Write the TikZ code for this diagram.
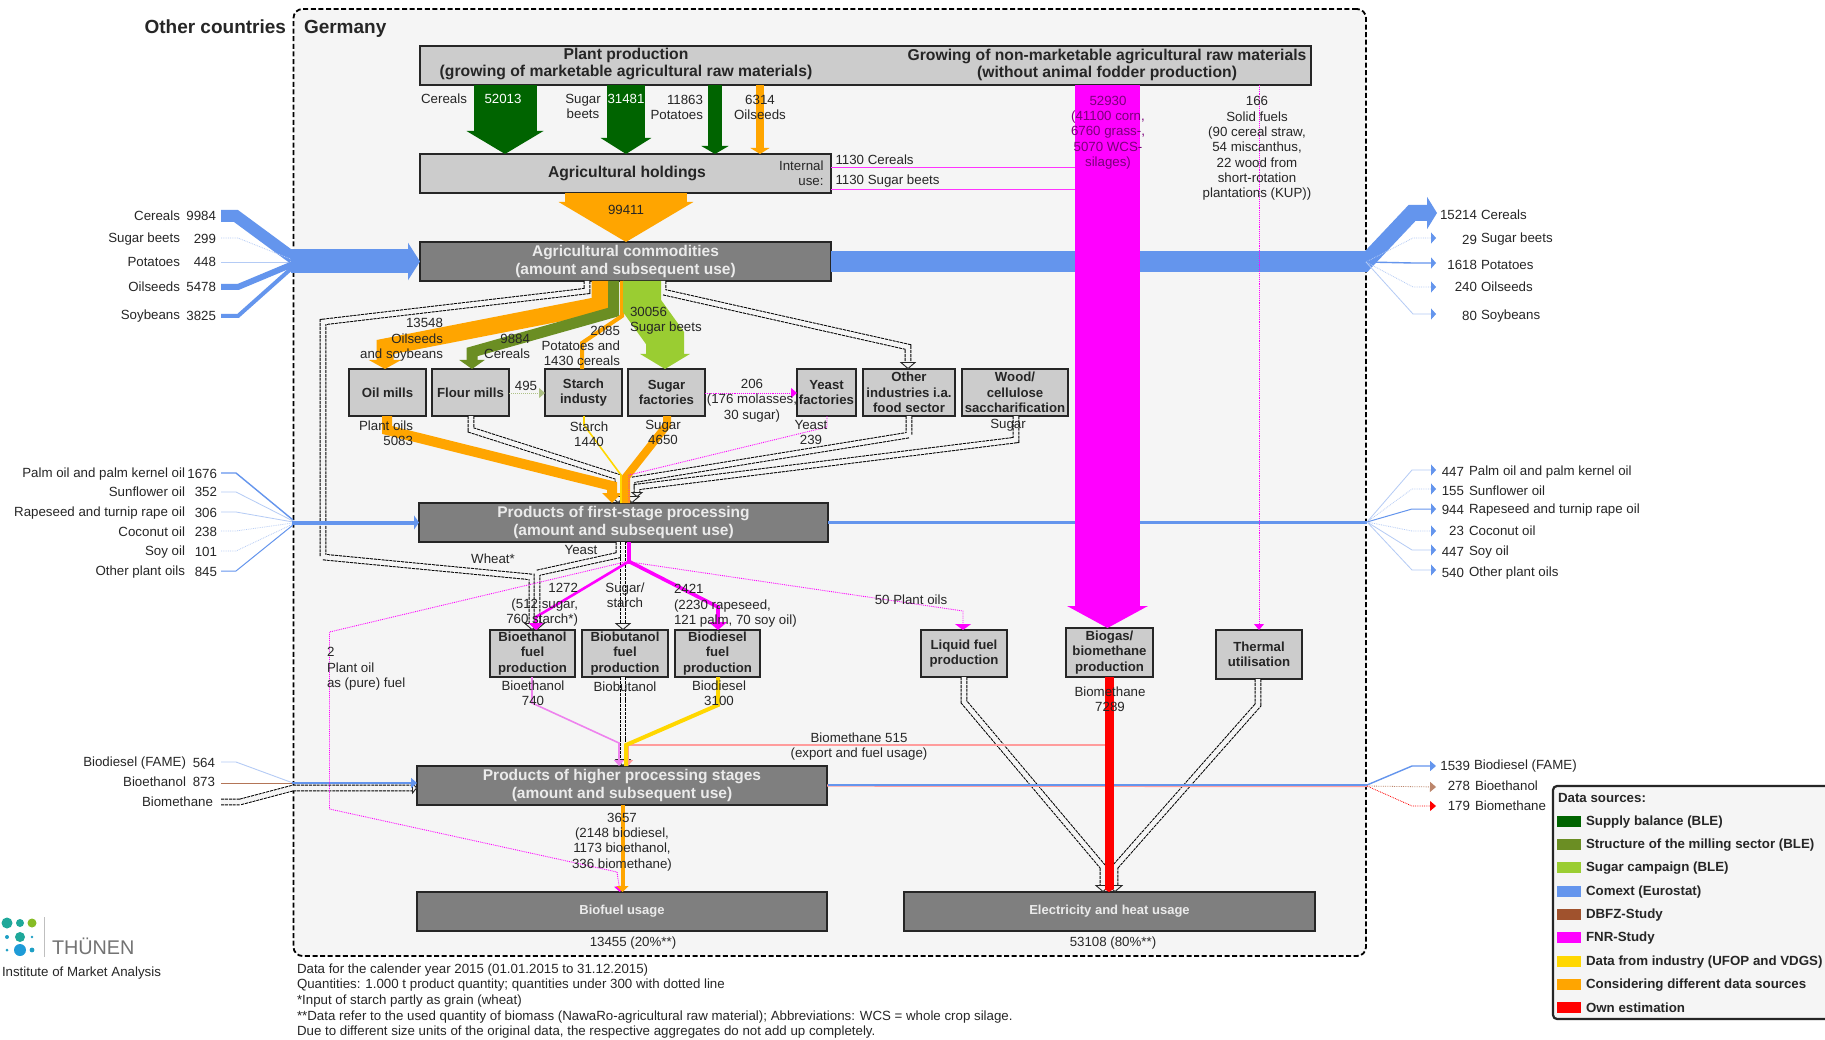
\documentclass[tikz,border=0pt]{standalone}
\usepackage{fontspec}
\setmainfont{Liberation Sans}
\usetikzlibrary{arrows.meta}
\definecolor{bggrey}{HTML}{F5F5F5}
\definecolor{boxlight}{HTML}{CCCCCC}
\definecolor{boxdark}{HTML}{7F7F7F}
\definecolor{supply}{HTML}{006400}
\definecolor{milling}{HTML}{6B8E23}
\definecolor{sugarcamp}{HTML}{9ACD32}
\definecolor{comext}{HTML}{6495ED}
\definecolor{comextlight}{HTML}{B4CBF5}
\definecolor{dbfz}{HTML}{A0522D}
\definecolor{fnr}{HTML}{FF00FF}
\definecolor{fnrlight}{HTML}{EE82EE}
\definecolor{industry}{HTML}{FFD700}
\definecolor{mixed}{HTML}{FFA500}
\definecolor{own}{HTML}{FF0000}
\definecolor{ownlight}{HTML}{FF9C9C}
\definecolor{inktext}{HTML}{262626}
\definecolor{onfnr}{HTML}{7A007A}
\definecolor{logoteal}{HTML}{1FA89A}
\definecolor{logogreen}{HTML}{86BC25}
\definecolor{logoblue}{HTML}{1E9BD7}
\newcommand{\txtsize}[1]{\fontsize{#1}{15.3}\selectfont}

\begin{document}
\begin{tikzpicture}[x=1pt, y=-1pt,
		lbl/.style={inner sep=0pt, outer sep=0pt, align=center, text=inktext, font=\txtsize{13.3}},
		lblr/.style={lbl, anchor=east, align=right},
		lbll/.style={lbl, anchor=west, align=left},
		procbox/.style={draw=black!85, line width=2.2pt, fill=boxlight, inner sep=0pt, outer sep=0pt,
			align=center, text=black!85, font=\bfseries\txtsize{13.2}},
		sumbox/.style={procbox, fill=boxdark, text=white!92!black, font=\bfseries\fontsize{15.5}{18}\selectfont},
		swatch/.style={inner sep=0pt, outer sep=0pt, minimum width=24pt, minimum height=11pt},
		legtext/.style={lbll, font=\bfseries\txtsize{13.3}},
		flow/.style={line join=miter, line cap=butt},
		tinytip/.style={-{Triangle[length=6pt, width=10pt]}},
		bluetip/.style={-{Triangle[length=5pt, width=11pt, color=comext]}},
		hollow/.style={draw=black, line width=6.6pt, dash pattern=on 3pt off .9pt,
			-{Triangle[open, length=7pt, width=16pt, fill=bggrey, color=black!85, line width=.8pt]},
			postaction={draw=bggrey, line width=4.6pt, solid}},
		hollowsmall/.style={hollow, -{Triangle[open, length=5pt, width=12pt, fill=bggrey, color=black!85, line width=.8pt]}}]
	\useasboundingbox (0,0) rectangle (1825,1040);
	\clip (0,0) rectangle (1825,1040);
	\fill[white] (0,0) rectangle (1825,1040);

	\node[draw=black, fill=bggrey, line width=1.8pt, dash pattern=on 5pt off 2.6pt, rounded corners=9pt,
		minimum width=1072.5pt, minimum height=947pt, inner sep=0pt, outer sep=0pt] (germany) at (829.75,482.5) {};
	\node[lblr, font=\bfseries\fontsize{19}{22}\selectfont] (othertitle) at (286,27) {Other countries};
	\node[lbll, font=\bfseries\fontsize{19}{22}\selectfont] (germanytitle) at (304,29) {Germany};

	\node[procbox, minimum width=891pt, minimum height=39pt] (plant) at (865.5,65.5) {};
	\node[procbox, minimum width=411pt, minimum height=39pt] (holdings) at (625.5,173.5) {};
	\node[sumbox, minimum width=411pt, minimum height=39pt] (commodities) at (625.5,261.5) {Agricultural commodities\\(amount and subsequent use)};
	\node[procbox, minimum width=77pt, minimum height=47pt] (oilmills) at (387.5,392.5) {Oil mills};
	\node[procbox, minimum width=77pt, minimum height=47pt] (flourmills) at (470.5,392.5) {Flour mills};
	\node[procbox, minimum width=77pt, minimum height=47pt] (starchind) at (583.5,392.5) {Starch\\industy};
	\node[procbox, minimum width=77pt, minimum height=47pt] (sugarfac) at (666.5,392.5) {Sugar\\factories};
	\node[procbox, minimum width=59pt, minimum height=47pt] (yeastfac) at (826.5,392.5) {Yeast\\factories};
	\node[procbox, minimum width=92pt, minimum height=47pt] (otherind) at (909,392.5) {Other\\industries i.a.\\food sector};
	\node[procbox, minimum width=106pt, minimum height=47pt] (woodsacch) at (1015,392.5) {Wood/\\cellulose\\saccharification};
	\node[sumbox, minimum width=409pt, minimum height=39pt] (firststage) at (623.5,522.5) {Products of first-stage processing\\(amount and subsequent use)};
	\node[procbox, minimum width=85pt, minimum height=47pt] (bioethanol) at (532.5,653.5) {Bioethanol\\fuel\\production};
	\node[procbox, minimum width=86pt, minimum height=47pt] (biobutanol) at (625,653.5) {Biobutanol\\fuel\\production};
	\node[procbox, minimum width=85pt, minimum height=47pt] (biodiesel) at (717.5,653.5) {Biodiesel\\fuel\\production};
	\node[procbox, minimum width=86pt, minimum height=47pt] (liquidfuel) at (964,653.5) {Liquid fuel\\production};
	\node[procbox, minimum width=87pt, minimum height=49pt] (biogas) at (1109.5,652.5) {Biogas/\\biomethane\\production};
	\node[procbox, minimum width=86pt, minimum height=49pt] (thermal) at (1259,654.5) {Thermal\\utilisation};
	\node[sumbox, minimum width=410pt, minimum height=39pt] (higher) at (622,785.5) {Products of higher processing stages\\(amount and subsequent use)};
	\node[sumbox, minimum width=410pt, minimum height=39pt, font=\bfseries\txtsize{13}] (biofuel) at (622,911.5) {Biofuel usage};
	\node[sumbox, minimum width=411pt, minimum height=39pt, font=\bfseries\txtsize{13}] (electricity) at (1109.5,911.5) {Electricity and heat usage};

	\draw[hollow] (587,0 |- commodities.south) -- (587,291) -- (323,322) -- (323,557) -- (532,577) -- (532,0 |- bioethanol.north);
	\draw[hollow] (619,0 |- firststage.south) -- (619,555) -- (537,573) -- (537,0 |- bioethanol.north);
	\draw[hollow] (663,0 |- commodities.south) -- (663,292) -- (908,347) -- (908,0 |- otherind.north);
	\draw[hollow] (471,0 |- flourmills.south) -- (471,430) -- (618,477) -- (618,0 |- firststage.north);
	\draw[hollow] (909,0 |- otherind.south) -- (909,435) -- (632,480) -- (632,0 |- firststage.north);
	\draw[hollowsmall] (1016,0 |- woodsacch.south) -- (1016,440) -- (637,487) -- (637,497);
	\draw[hollow] (623,0 |- firststage.south) -- (623,0 |- biobutanol.north);
	\draw[hollow] (623,0 |- biobutanol.south) -- (623,0 |- higher.north);
	\draw[hollow] (964,0 |- liquidfuel.south) -- (964,702) -- (1103,867) -- (1103,0 |- electricity.north);
	\draw[hollow] (1258,0 |- thermal.south) -- (1258,705) -- (1115,867) -- (1115,0 |- electricity.north);
	\draw[hollowsmall] (221,802) -- (240,802) -- (293,788) -- (417,788);

	\draw[flow, supply, line width=63pt, -{Triangle[length=23pt, width=76pt]}] (505,0 |- plant.south) -- (505,0 |- holdings.north);
	\draw[flow, supply, line width=38pt, -{Triangle[length=16pt, width=50pt]}] (626,0 |- plant.south) -- (626,0 |- holdings.north);
	\draw[flow, supply, line width=14pt, -{Triangle[length=8pt, width=27pt]}] (715,0 |- plant.south) -- (715,0 |- holdings.north);
	\draw[flow, mixed, line width=7.5pt, -{Triangle[length=6pt, width=19pt]}] (760,0 |- plant.south) -- (760,0 |- holdings.north);
	\draw[flow, mixed, line width=122pt, -{Triangle[length=40pt, width=133pt]}] (626,0 |- holdings.south) -- (626,0 |- commodities.north);

	\draw[flow, comext, line width=12pt] (221,216) -- (236,216) -- (293,258);
	\draw[flow, comextlight, line width=.8pt, densely dotted] (221,238) -- (238,238) -- (293,260);
	\draw[flow, comextlight, line width=.8pt] (221,262) -- (293,262);
	\draw[flow, comext, line width=6pt] (221,287) -- (238,287) -- (293,264);
	\draw[flow, comext, line width=4pt] (221,316) -- (238,316) -- (293,267);
	\draw[flow, comext, line width=24pt, -{Triangle[length=12pt, width=37pt]}] (291,261.5) -- (commodities.west);
	\draw[flow, comext, line width=21pt] (commodities.east) -- (1368,261.5);
	\draw[flow, comext, line width=16pt, -{Triangle[length=10pt, width=32pt]}] (1362,266) -- (1412,213) -- (1437,213);
	\draw[flow, comextlight, line width=.8pt, densely dotted, bluetip] (1366,262) -- (1413,238) -- (1436,238);
	\draw[flow, comext, line width=1.4pt, bluetip] (1366,262) -- (1413,263) -- (1436,263);
	\draw[flow, comextlight, line width=.8pt, densely dotted, bluetip] (1366,262) -- (1413,287) -- (1436,287);
	\draw[flow, comextlight, line width=.8pt, bluetip] (1366,262) -- (1413,314) -- (1436,314);

	\draw[flow, comext, line width=1.4pt] (221,473) -- (236,473) -- (293,520);
	\draw[flow, comextlight, line width=.8pt] (221,492) -- (236,492) -- (293,521);
	\draw[flow, comextlight, line width=.8pt] (221,512) -- (236,512) -- (293,522);
	\draw[flow, comextlight, line width=.8pt, densely dotted] (221,531) -- (236,531) -- (293,523);
	\draw[flow, comextlight, line width=.8pt, densely dotted] (221,551) -- (236,551) -- (293,524);
	\draw[flow, comext, line width=1pt] (221,571) -- (236,571) -- (293,525);
	\draw[flow, comext, line width=4pt, -{Triangle[length=5pt, width=14pt]}] (292,522.5) -- (firststage.west);
	\draw[flow, comext, line width=3pt] (firststage.east) -- (1367,522.5);
	\draw[flow, comextlight, line width=.8pt, bluetip] (1367,522) -- (1412,470) -- (1436,470);
	\draw[flow, comextlight, line width=.8pt, densely dotted, bluetip] (1367,522) -- (1412,489) -- (1436,489);
	\draw[flow, comext, line width=1pt, bluetip] (1367,522) -- (1412,509) -- (1436,509);
	\draw[flow, comextlight, line width=.8pt, densely dotted, bluetip] (1367,522) -- (1412,531) -- (1436,531);
	\draw[flow, comextlight, line width=.8pt, bluetip] (1367,522) -- (1412,550) -- (1436,550);
	\draw[flow, comextlight, line width=.8pt, bluetip] (1367,522) -- (1412,570) -- (1436,570);

	\draw[flow, comextlight, line width=.9pt] (221,762) -- (236,762) -- (293,783);
	\draw[flow, dbfz!80, line width=.8pt] (221,783) -- (293,783);
	\draw[flow, comext, line width=1.6pt, tinytip] (292,783) -- (417,783);
	\draw[flow, ownlight, line width=2.4pt] (higher.east) -- (1367,786);
	\draw[flow, comext, line width=1.1pt] (828,785) -- (1367,785);
	\draw[flow, comext, line width=1.4pt, tinytip] (1367,785) -- (1412,766) -- (1436,766);
	\draw[flow, dbfz!70, line width=.8pt, densely dotted, tinytip] (1367,786) -- (1436,787);
	\draw[flow, own, line width=.8pt, densely dotted, tinytip] (1367,786) -- (1412,806) -- (1436,806);

	\draw[flow, mixed, line width=17pt, -{Triangle[length=9pt, width=32pt]}] (600,0 |- commodities.south) -- (600,305) -- (385,347) -- (385,0 |- oilmills.north);
	\draw[flow, milling, line width=11pt, -{Triangle[length=9pt, width=25pt]}] (613.5,0 |- commodities.south) -- (613.5,312) -- (472,352) -- (472,0 |- flourmills.north);
	\draw[flow, mixed, line width=4pt] (622,0 |- commodities.south) -- (622,316) -- (582,343) -- (582,0 |- starchind.north);
	\draw[flow, sugarcamp, line width=38pt, -{Triangle[length=15pt, width=49pt]}] (642,0 |- commodities.south) -- (642,306) -- (665,338) -- (665,0 |- sugarfac.north);
	\draw[flow, milling!55, line width=1pt, densely dotted, tinytip] (flourmills.east |- 0,393) -- (starchind.west |- 0,393);
	\draw[flow, fnr, line width=.9pt, densely dotted, tinytip] (sugarfac.east |- 0,393) -- (yeastfac.west |- 0,393);

	\draw[flow, mixed, line width=10pt, -{Triangle[length=10pt, width=19pt]}] (387,0 |- oilmills.south) -- (387,430) -- (612,486) -- (612,0 |- firststage.north);
	\draw[flow, industry, line width=1.6pt] (584,0 |- starchind.south) -- (584,425) -- (621,475) -- (621,0 |- firststage.north);
	\draw[flow, mixed, line width=8pt] (667,0 |- sugarfac.south) -- (667,425) -- (626,477) -- (626,0 |- firststage.north);
	\draw[flow, fnr, line width=.9pt, densely dotted] (827,0 |- yeastfac.south) -- (827,427) -- (629,475) -- (629,0 |- firststage.north);

	\draw[flow, fnr, line width=3.5pt] (629,0 |- firststage.south) -- (629,564);
	\draw[flow, fnr, line width=2.6pt, -{Triangle[length=7pt, width=14pt]}] (628,562) -- (536,617) -- (536,0 |- bioethanol.north);
	\draw[flow, fnr, line width=3.6pt, -{Triangle[length=8pt, width=18pt]}] (630,562) -- (718,607) -- (718,0 |- biodiesel.north);
	\draw[flow, fnr, line width=.9pt, densely dotted, -{Triangle[length=6pt, width=16pt]}] (630,562) -- (963,611) -- (963,0 |- liquidfuel.north);
	\draw[flow, fnr, line width=.9pt, densely dotted, tinytip] (625,562) -- (329.5,632) -- (329.5,809) -- (617,872) -- (620,0 |- biofuel.north);
	\draw[flow, fnrlight, line width=1.6pt, tinytip] (532,0 |- bioethanol.south) -- (532,703) -- (619,743) -- (619,0 |- higher.north);
	\draw[flow, ownlight, line width=1.4pt, tinytip] (biogas.south |- 0,745) -- (628,745) -- (628,0 |- higher.north);
	\draw[flow, industry, line width=4pt] (718,0 |- biodiesel.south) -- (718,705) -- (626,745) -- (626,0 |- higher.north);
	\draw[flow, mixed, line width=4pt, -{Triangle[length=6pt, width=12pt]}] (622.5,0 |- higher.south) -- (622.5,0 |- biofuel.north);

	\draw[flow, fnr!80, line width=1pt] (holdings.east |- 0,168) -- (1076,168);
	\draw[flow, fnr!80, line width=1pt] (holdings.east |- 0,190) -- (1076,190);
	\draw[flow, fnr, line width=65pt, -{Triangle[length=22pt, width=80pt]}] (1107.5,0 |- plant.south) -- (1107.5,0 |- biogas.north);
	\draw[flow, fnr, line width=.9pt, densely dotted, tinytip] (1259,0 |- plant.south) -- (1259,0 |- thermal.north);
	\draw[flow, own, line width=9pt, -{Triangle[length=3pt, width=9pt]}] (1109,0 |- biogas.south) -- (1109,0 |- electricity.north);

	\node[lbl, font=\bfseries\fontsize{15.7}{17.6}\selectfont, text=black!85] (planttext) at (626,64) {Plant production\\(growing of marketable agricultural raw materials)};
	\node[lbl, font=\bfseries\fontsize{15.7}{17.6}\selectfont, text=black!85] (growtext) at (1107,65) {Growing of non-marketable agricultural raw materials\\(without animal fodder production)};
	\node[lbl, font=\bfseries\fontsize{15.7}{18}\selectfont, text=black!85] (holdtext) at (627,173) {Agricultural holdings};
	\node[lblr] (internal) at (823.5,173.5) {Internal\\use:};
	\node[lbll] (intcereals) at (835.5,160) {1130 Cereals};
	\node[lbll] (intbeets) at (835.5,181) {1130 Sugar beets};

	\node[lbl] (lcereals) at (444,99) {Cereals};
	\node[lbl, text=white] (nplantcer) at (503,99) {52013};
	\node[lbl] (lbeets) at (583,106.5) {Sugar\\beets};
	\node[lbl, text=white] (nplantbeet) at (626,99) {31481};
	\node[lblr] (lpotato) at (703,107.5) {11863\\Potatoes};
	\node[lbl] (loilseed) at (760,107.5) {6314\\Oilseeds};
	\node[lbl] (l99411) at (626,210) {99411};
	\node[lbl, text=onfnr] (lsilage) at (1108,132.5) {52930\\(41100 corn,\\6760 grass-,\\5070 WCS-\\silages)};
	\node[lbl] (lsolid) at (1257,148.5) {166\\Solid fuels\\(90 cereal straw,\\54 miscanthus,\\22 wood from\\short-rotation\\plantations (KUP))};

	\node[lblr] (loil) at (443,340) {13548\\Oilseeds\\and soybeans};
	\node[lblr] (lflour) at (530,346.5) {9884\\Cereals};
	\node[lblr] (lstarchin) at (620,346) {2085\\Potatoes and\\1430 cereals};
	\node[lbll] (lbeetin) at (630,321) {30056\\Sugar beets};
	\node[lbl] (l495) at (526,386) {495};
	\node[lbl] (l206) at (752,400.5) {206\\(176 molasses,\\30 sugar)};
	\node[lblr] (lplantoils) at (413,433.5) {Plant oils\\5083};
	\node[lbl] (lstarchout) at (589,434.5) {Starch\\1440};
	\node[lbl] (lsugarout) at (663,432.5) {Sugar\\4650};
	\node[lbl] (lyeastout) at (811,432.5) {Yeast\\239};
	\node[lbl] (lsugarwood) at (1008,425) {Sugar};

	\node[lbl] (lyeast) at (581,550) {Yeast};
	\node[lbl] (lwheat) at (493,559) {Wheat*};
	\node[lblr] (l1272) at (578,605) {1272\\(512 sugar,\\760 starch*)};
	\node[lbl] (lsugstarch) at (625,595.5) {Sugar/\\starch};
	\node[lbll] (l2421) at (674,606) {2421\\(2230 rapeseed,\\121 palm, 70 soy oil)};
	\node[lbl] (l50) at (911,600) {50 Plant oils};
	\node[lbll] (lpure) at (327,669) {2\\Plant oil\\as (pure) fuel};
	\node[lbl] (lbioeth) at (533,693.5) {Bioethanol\\740};
	\node[lbl] (lbiobut) at (625,687) {Biobutanol};
	\node[lbl] (lbiodies) at (719,693.5) {Biodiesel\\3100};
	\node[lbl] (lbiometh) at (1110,699.5) {Biomethane\\7289};
	\node[lbl] (lb515) at (859,746.5) {Biomethane 515\\(export and fuel usage)};
	\node[lbl] (l3657) at (622,842) {3657\\(2148 biodiesel,\\1173 bioethanol,\\336 biomethane)};
	\node[lbl] (l13455) at (633,943) {13455 (20\%**)};
	\node[lbl] (l53108) at (1113,943) {53108 (80\%**)};

	\node[lblr] (incer) at (180,216) {Cereals};
	\node[lblr] (incern) at (216,216) {9984};
	\node[lblr] (inbeet) at (180,239) {Sugar beets};
	\node[lblr] (inbeetn) at (216,239) {299};
	\node[lblr] (inpot) at (180,262) {Potatoes};
	\node[lblr] (inpotn) at (216,262) {448};
	\node[lblr] (inseed) at (180,287) {Oilseeds};
	\node[lblr] (inseedn) at (216,287) {5478};
	\node[lblr] (insoy) at (180,316) {Soybeans};
	\node[lblr] (insoyn) at (216,316) {3825};

	\node[lblr] (inpalm) at (185,474) {Palm oil and palm kernel oil};
	\node[lblr] (inpalmn) at (217,474) {1676};
	\node[lblr] (insun) at (185,492) {Sunflower oil};
	\node[lblr] (insunn) at (217,492) {352};
	\node[lblr] (inrape) at (185,513) {Rapeseed and turnip rape oil};
	\node[lblr] (inrapen) at (217,513) {306};
	\node[lblr] (incoco) at (185,532) {Coconut oil};
	\node[lblr] (incocon) at (217,532) {238};
	\node[lblr] (insoyoil) at (185,552) {Soy oil};
	\node[lblr] (insoyoiln) at (217,552) {101};
	\node[lblr] (inother) at (185,572) {Other plant oils};
	\node[lblr] (inothern) at (217,572) {845};

	\node[lblr] (infame) at (186,763) {Biodiesel (FAME)};
	\node[lblr] (infamen) at (215,763) {564};
	\node[lblr] (inethanol) at (186,782) {Bioethanol};
	\node[lblr] (inethanoln) at (215,782) {873};
	\node[lblr] (inmethane) at (213,802) {Biomethane};

	\node[lblr] (outcern) at (1477,215) {15214};
	\node[lbll] (outcer) at (1481,215) {Cereals};
	\node[lblr] (outbeetn) at (1477,239.5) {29};
	\node[lbll] (outbeet) at (1481,239.5) {Sugar beets};
	\node[lblr] (outpotn) at (1477,265) {1618};
	\node[lbll] (outpot) at (1481,265) {Potatoes};
	\node[lblr] (outseedn) at (1477,287) {240};
	\node[lbll] (outseed) at (1481,287) {Oilseeds};
	\node[lblr] (outsoyn) at (1477,316) {80};
	\node[lbll] (outsoy) at (1481,316) {Soybeans};

	\node[lblr] (outpalmn) at (1464,472) {447};
	\node[lbll] (outpalm) at (1469,472) {Palm oil and palm kernel oil};
	\node[lblr] (outsunn) at (1464,491) {155};
	\node[lbll] (outsun) at (1469,491) {Sunflower oil};
	\node[lblr] (outrapen) at (1464,510) {944};
	\node[lbll] (outrape) at (1469,510) {Rapeseed and turnip rape oil};
	\node[lblr] (outcocon) at (1464,531) {23};
	\node[lbll] (outcoco) at (1469,531) {Coconut oil};
	\node[lblr] (outsoyoiln) at (1464,552) {447};
	\node[lbll] (outsoyoil) at (1469,552) {Soy oil};
	\node[lblr] (outothern) at (1464,573) {540};
	\node[lbll] (outother) at (1469,573) {Other plant oils};

	\node[lblr] (outfamen) at (1470,766) {1539};
	\node[lbll] (outfame) at (1474,766) {Biodiesel (FAME)};
	\node[lblr] (outethanoln) at (1470,786) {278};
	\node[lbll] (outethanol) at (1475,786) {Bioethanol};
	\node[lblr] (outmethanen) at (1470,806) {179};
	\node[lbll] (outmethane) at (1475,806) {Biomethane};

	\node[lbll, anchor=north west, font=\fontsize{13.3}{15.7}\selectfont] (notes) at (297,963.5) {Data for the calender year 2015 (01.01.2015 to 31.12.2015)\\Quantities: 1.000 t product quantity; quantities under 300 with dotted line\\*Input of starch partly as grain (wheat)\\**Data refer to the used quantity of biomass (NawaRo-agricultural raw material); Abbreviations: WCS = whole crop silage.\\Due to different size units of the original data, the respective aggregates do not add up completely.};

	\node[draw=black!85, fill=bggrey, line width=2.2pt, rounded corners=4pt, minimum width=290pt, minimum height=233pt,
		inner sep=0pt, outer sep=0pt, anchor=north west] (legend) at (1553,786) {};
	\node[legtext] (legtitle) at (1558,798) {Data sources:};
	\node[swatch, fill=supply, anchor=west] (swsupply) at (1557,821) {};
	\node[legtext, right=5pt] (txsupply) at ([yshift=-1pt]swsupply.east) {Supply balance (BLE)};
	\node[swatch, fill=milling, anchor=west] (swmilling) at (1557,844) {};
	\node[legtext, right=5pt] (txmilling) at ([yshift=-1pt]swmilling.east) {Structure of the milling sector (BLE)};
	\node[swatch, fill=sugarcamp, anchor=west] (swsugar) at (1557,867) {};
	\node[legtext, right=5pt] (txsugar) at ([yshift=-1pt]swsugar.east) {Sugar campaign (BLE)};
	\node[swatch, fill=comext, anchor=west] (swcomext) at (1557,891) {};
	\node[legtext, right=5pt] (txcomext) at ([yshift=-1pt]swcomext.east) {Comext (Eurostat)};
	\node[swatch, fill=dbfz, anchor=west] (swdbfz) at (1557,914) {};
	\node[legtext, right=5pt] (txdbfz) at ([yshift=-1pt]swdbfz.east) {DBFZ-Study};
	\node[swatch, fill=fnr, anchor=west] (swfnr) at (1557,937) {};
	\node[legtext, right=5pt] (txfnr) at ([yshift=-1pt]swfnr.east) {FNR-Study};
	\node[swatch, fill=industry, anchor=west] (swindustry) at (1557,961) {};
	\node[legtext, right=5pt] (txindustry) at ([yshift=-1pt]swindustry.east) {Data from industry (UFOP and VDGS)};
	\node[swatch, fill=mixed, anchor=west] (swmixed) at (1557,984) {};
	\node[legtext, right=5pt] (txmixed) at ([yshift=-1pt]swmixed.east) {Considering different data sources};
	\node[swatch, fill=own, anchor=west] (swown) at (1557,1007) {};
	\node[legtext, right=5pt] (txown) at ([yshift=-1pt]swown.east) {Own estimation};

	\fill[logoteal] (7,923) circle (5.5);
	\fill[logoteal] (20,923) circle (4);
	\fill[logogreen] (32,923) circle (4.5);
	\fill[logoteal] (20,937) circle (5);
	\fill[logoblue] (20,950) circle (6);
	\fill[logoblue!70!logoteal] (7,937) circle (2) (7,950) circle (1.5) (32,937) circle (1.4) (32,950) circle (2.4);
	\draw[black!25, line width=.7pt] (44.7,917) -- (44.7,957);
	\node[lbll, text=black!55, font=\fontsize{19.8}{22}\selectfont] (thuenen) at (52,946) {THÜNEN};
	\node[lbll] (institute) at (2,973) {Institute of Market Analysis};
\end{tikzpicture}
\end{document}
